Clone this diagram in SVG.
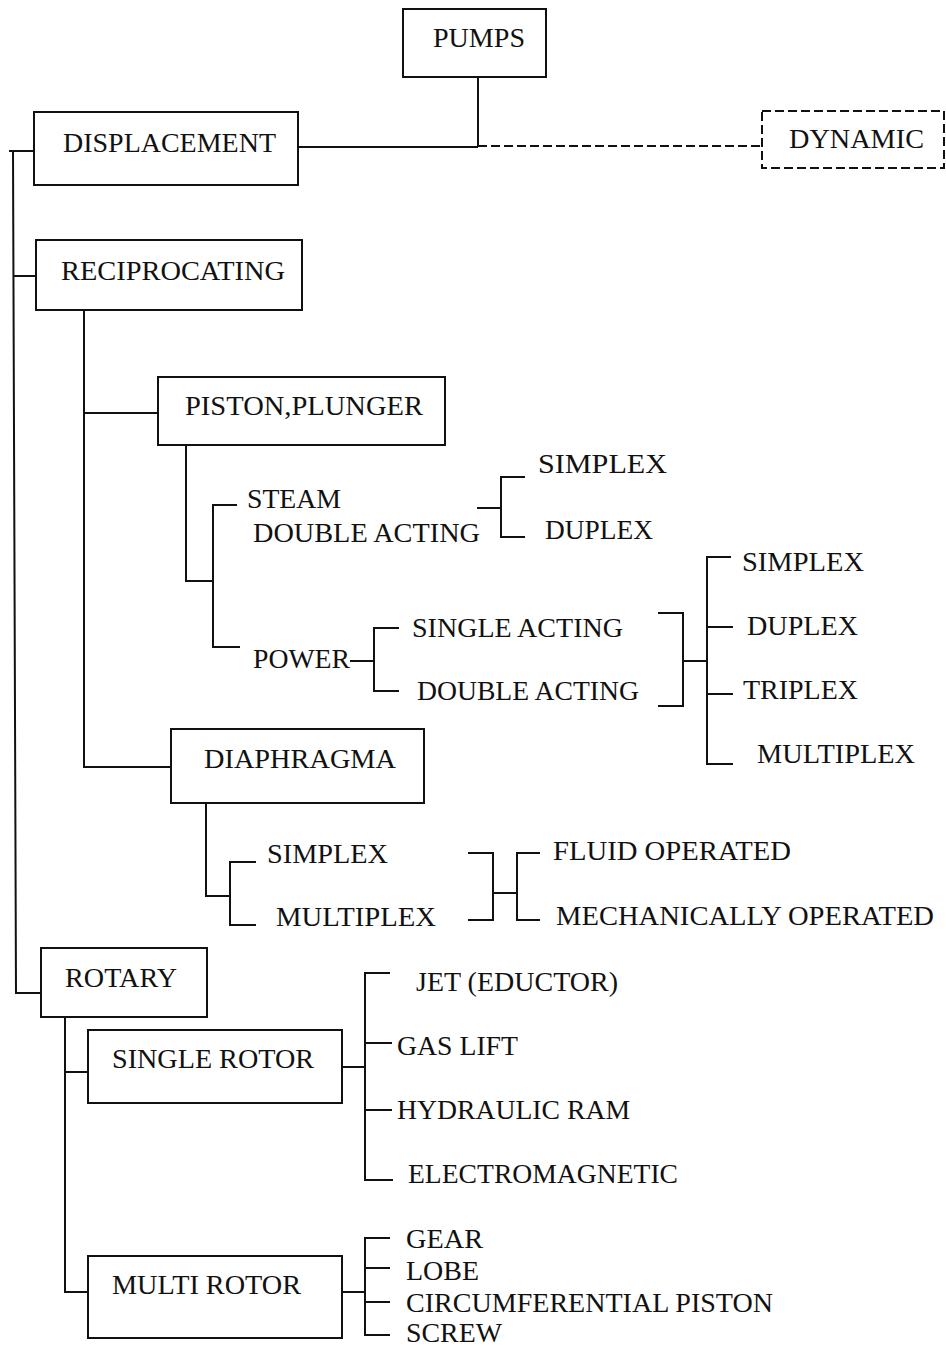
<svg xmlns="http://www.w3.org/2000/svg" width="946" height="1349" viewBox="0 0 946 1349">
<style>
.box{fill:#fff;stroke:#111;stroke-width:2}
.dbox{fill:#fff;stroke:#111;stroke-width:2;stroke-dasharray:9 4}
.ln{fill:none;stroke:#111;stroke-width:2}
.dl{fill:none;stroke:#111;stroke-width:2;stroke-dasharray:9 4}
text{font-family:"Liberation Serif","Times New Roman",serif;font-size:27px;fill:#111}
</style>
<rect width="946" height="1349" fill="#fff"/>
<g id="connectors">
<path class="ln" d="M478 77 V147 M298 147 H478"/>
<path class="dl" d="M478 146 H762"/>
<path class="ln" d="M9 151 H34 M13 151 L16 993 H41 M14 276 H36"/>
<path class="ln" d="M84 310 V767 H171 M84 413 H158"/>
<path class="ln" d="M186 445 V581 H213 M237 505 H213 V647 H240"/>
<path class="ln" d="M477 508 H501 M525 477 H501 V537 H525"/>
<path class="ln" d="M350 661 H374 M399 628 H374 V691 H399"/>
<path class="ln" d="M658 613 H683 V706 H658 M683 661 H707 M731 557 H707 V764 H733 M707 627 H733 M707 694 H733"/>
<path class="ln" d="M206 803 V896 H230 M256 862 H230 V925 H256"/>
<path class="ln" d="M468 853 H493 V920 H468 M493 893 H517 M540 853 H517 V920 H540"/>
<path class="ln" d="M65 1017 V1292 H88 M65 1072 H88"/>
<path class="ln" d="M342 1067 H365 M390 973 H365 V1180 H393 M365 1043 H392 M365 1110 H392"/>
<path class="ln" d="M342 1292 H365 M390 1238 H365 V1335 H390 M365 1268 H390 M365 1302 H390"/>
</g>
<g id="pumps"><rect class="box" x="403" y="9" width="143" height="68"/><text x="433" y="47" textLength="92" lengthAdjust="spacingAndGlyphs">PUMPS</text></g>
<g id="displacement"><rect class="box" x="34" y="112" width="264" height="73"/><text x="63" y="152" textLength="213" lengthAdjust="spacingAndGlyphs">DISPLACEMENT</text></g>
<g id="dynamic"><rect class="dbox" x="762" y="111" width="182" height="57"/><text x="789" y="148" textLength="135" lengthAdjust="spacingAndGlyphs">DYNAMIC</text></g>
<g id="reciprocating"><rect class="box" x="36" y="240" width="266" height="70"/><text x="61" y="280" textLength="224" lengthAdjust="spacingAndGlyphs">RECIPROCATING</text></g>
<g id="piston"><rect class="box" x="158" y="377" width="287" height="68"/><text x="185" y="415" textLength="238" lengthAdjust="spacingAndGlyphs">PISTON,PLUNGER</text></g>
<g id="steam"><text x="247" y="508" textLength="94" lengthAdjust="spacingAndGlyphs">STEAM</text><text x="253" y="542" textLength="227" lengthAdjust="spacingAndGlyphs">DOUBLE ACTING</text></g>
<g id="steam-simplex"><text x="538" y="473" textLength="129" lengthAdjust="spacingAndGlyphs">SIMPLEX</text></g>
<g id="steam-duplex"><text x="545" y="539" textLength="108" lengthAdjust="spacingAndGlyphs">DUPLEX</text></g>
<g id="power"><text x="253" y="668" textLength="97" lengthAdjust="spacingAndGlyphs">POWER</text></g>
<g id="single-acting"><text x="412" y="637" textLength="211" lengthAdjust="spacingAndGlyphs">SINGLE ACTING</text></g>
<g id="double-acting"><text x="417" y="700" textLength="222" lengthAdjust="spacingAndGlyphs">DOUBLE ACTING</text></g>
<g id="power-simplex"><text x="742" y="571" textLength="122" lengthAdjust="spacingAndGlyphs">SIMPLEX</text></g>
<g id="power-duplex"><text x="747" y="635" textLength="111" lengthAdjust="spacingAndGlyphs">DUPLEX</text></g>
<g id="power-triplex"><text x="743" y="699" textLength="115" lengthAdjust="spacingAndGlyphs">TRIPLEX</text></g>
<g id="power-multiplex"><text x="757" y="763" textLength="158" lengthAdjust="spacingAndGlyphs">MULTIPLEX</text></g>
<g id="diaphragma"><rect class="box" x="171" y="729" width="253" height="74"/><text x="204" y="768" textLength="192" lengthAdjust="spacingAndGlyphs">DIAPHRAGMA</text></g>
<g id="diaph-simplex"><text x="267" y="863" textLength="121" lengthAdjust="spacingAndGlyphs">SIMPLEX</text></g>
<g id="diaph-multiplex"><text x="276" y="926" textLength="160" lengthAdjust="spacingAndGlyphs">MULTIPLEX</text></g>
<g id="fluid"><text x="553" y="860" textLength="238" lengthAdjust="spacingAndGlyphs">FLUID OPERATED</text></g>
<g id="mechanical"><text x="556" y="925" textLength="378" lengthAdjust="spacingAndGlyphs">MECHANICALLY OPERATED</text></g>
<g id="rotary"><rect class="box" x="41" y="948" width="166" height="69"/><text x="65" y="987" textLength="112" lengthAdjust="spacingAndGlyphs">ROTARY</text></g>
<g id="single-rotor"><rect class="box" x="88" y="1030" width="254" height="73"/><text x="112" y="1068" textLength="202" lengthAdjust="spacingAndGlyphs">SINGLE ROTOR</text></g>
<g id="multi-rotor"><rect class="box" x="88" y="1256" width="254" height="82"/><text x="112" y="1294" textLength="189" lengthAdjust="spacingAndGlyphs">MULTI ROTOR</text></g>
<g id="jet"><text x="416" y="991" textLength="202" lengthAdjust="spacingAndGlyphs">JET (EDUCTOR)</text></g>
<g id="gas-lift"><text x="397" y="1055" textLength="121" lengthAdjust="spacingAndGlyphs">GAS LIFT</text></g>
<g id="hydraulic-ram"><text x="397" y="1119" textLength="233" lengthAdjust="spacingAndGlyphs">HYDRAULIC RAM</text></g>
<g id="electromagnetic"><text x="408" y="1183" textLength="270" lengthAdjust="spacingAndGlyphs">ELECTROMAGNETIC</text></g>
<g id="gear"><text x="406" y="1248" textLength="77" lengthAdjust="spacingAndGlyphs">GEAR</text></g>
<g id="lobe"><text x="406" y="1280" textLength="73" lengthAdjust="spacingAndGlyphs">LOBE</text></g>
<g id="circumferential"><text x="406" y="1312" textLength="367" lengthAdjust="spacingAndGlyphs">CIRCUMFERENTIAL PISTON</text></g>
<g id="screw"><text x="406" y="1342" textLength="96" lengthAdjust="spacingAndGlyphs">SCREW</text></g>
</svg>
